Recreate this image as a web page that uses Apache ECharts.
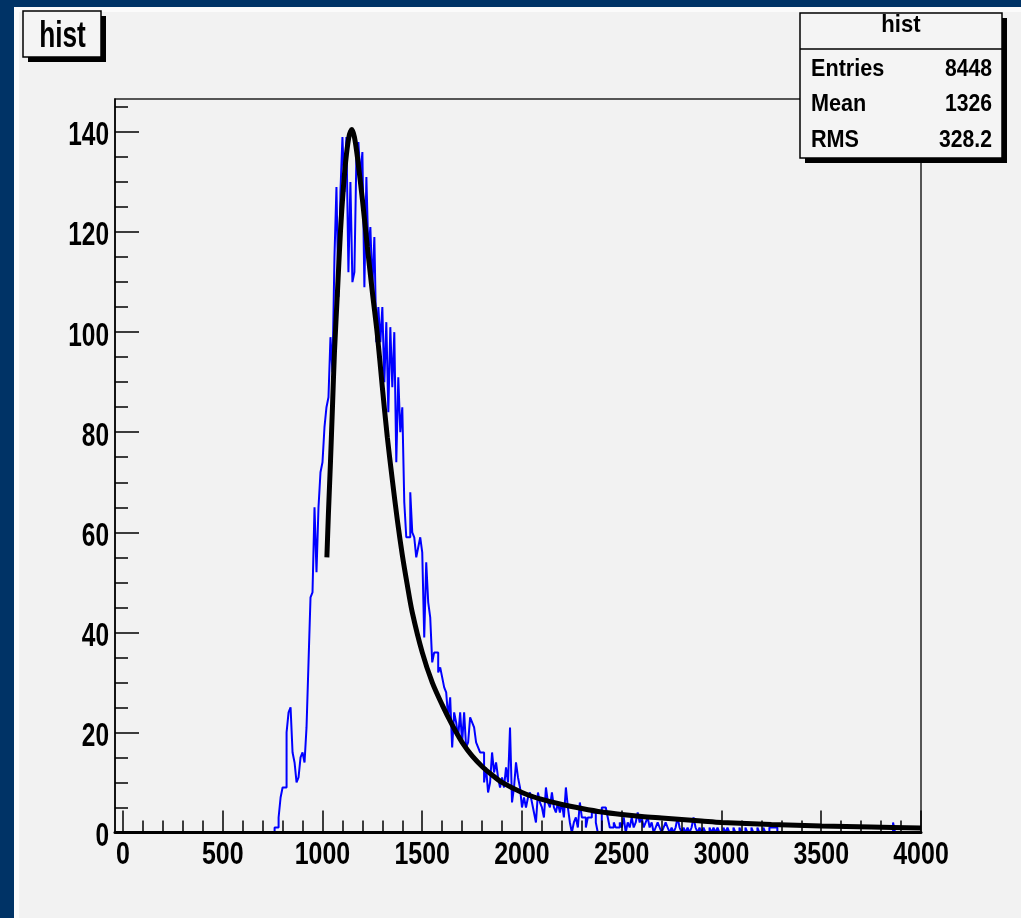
<!DOCTYPE html>
<html>
<head>
<meta charset="utf-8">
<script src="https://cdn.jsdelivr.net/npm/echarts@6/dist/echarts.min.js"></script>
<style>
html,body{margin:0;padding:0;background:#003366;}
#c{width:1021px;height:918px;}
</style>
</head>
<body>
<div id="c"></div>
<script>
// ---------- data ----------
const histTitle = 'hist';
const axisMin = -40;
const axisMax = 4000;
const histLow = 700;      // lower edge of first listed bin
const binWidth = 10;
// bin contents, 10 bins per row: 700-790, 800-890, ...
const counts = [
  0,0,0,0,0,0,1,1,3,7,
  9,9,20,24,25,16,14,10,11,15,
  16,14,21,34,47,48,65,52,65,72,
  74,81,85,87,99,92,115,129,107,128,
  139,128,139,112,130,110,112,135,138,131,
  136,109,131,116,121,109,119,98,105,98,
  105,90,102,84,101,89,100,74,91,80,
  85,66,59,59,68,60,59,55,57,59,
  56,39,54,46,43,34,36,36,32,33,
  31,29,28,23,27,17,24,22,19,24,
  18,24,17,18,23,22,21,18,17,16,
  16,10,13,8,10,16,12,14,11,9,
  11,9,13,10,21,6,9,14,11,9,
  5,7,5,7,8,6,4,2,8,6,
  5,3,9,6,5,8,5,4,6,4,
  6,3,9,5,2,0,2,3,1,6,
  3,3,1,3,3,4,4,2,0,0,
  5,5,5,3,1,1,2,1,1,2,
  1,3,0,2,1,3,1,2,4,2,
  3,1,2,3,1,2,0,1,2,1,
  0,1,2,1,0,1,0,1,3,1,
  0,1,0,1,0,1,3,1,0,1,
  0,1,0,0,1,0,1,0,1,0,
  0,1,0,1,0,0,1,0,0,1,
  0,0,1,0,0,1,0,0,1,0,
  0,1,0,0,1,1,1,1,0,0,
  0,0,0,0,0,0,0,0,0,0,
  0,0,0,0,0,0,0,0,0,0,
  0,0,0,0,0,0,0,0,0,0,
  0,0,0,0,0,0,0,0,0,0,
  0,0,0,0,0,0,0,0,0,0,
  0,0,0,0,0,0,2,0,0,0,
  0,0,0,0,0,0,0,0,0,0
];
// fitted curve
const fitX = [1022,1030,1040,1050,1060,1075,1090,1105,1120,1135,1147,1160,1175,1200,1225,1250,1275,1300,1325,1350,1375,1400,1425,1450,1500,1550,1600,1650,1700,1750,1800,1850,1900,2000,2100,2200,2300,2400,2500,2600,2700,2800,2900,3000,3250,3500,3750,4000];
const fitY = [55,64,74,85,96,108,120,129,135.5,139.5,140.5,139,135,126.5,117,108,99.5,89,79,70.5,62.5,55.5,49.5,44,36,30,25.5,21.5,18,15.3,13.2,11.5,10,8,6.6,5.6,4.8,4.1,3.6,3.2,2.9,2.6,2.3,2.0,1.6,1.3,1.1,0.9];
// axis ticks and labels
const xMajorTicks = [0,500,1000,1500,2000,2500,3000,3500,4000];
const xTickLabels = ['0','500','1000','1500','2000','2500','3000','3500','4000'];
const xMinorTicks = [100,200,300,400,600,700,800,900,1100,1200,1300,1400,1600,1700,1800,1900,2100,2200,2300,2400,2600,2700,2800,2900,3100,3200,3300,3400,3600,3700,3800,3900];
const yMax = 146.6;
const yMajorTicks = [0,20,40,60,80,100,120,140];
const yTickLabels = ['0','20','40','60','80','100','120','140'];
const yMinorTicks = [5,10,15,25,30,35,45,50,55,65,70,75,85,90,95,105,110,115,125,130,135,145];
// statistics box
const statsLabels = ['Entries','Mean','RMS'];
const statsValues = ['8448','1326','328.2'];

// ---------- chart ----------
const FONT = "'Liberation Sans','Arial',Helvetica,sans-serif";

const histData = [[axisMin, 0]]
  .concat(counts.map((c, i) => [histLow + i * binWidth, c]))
  .concat([[axisMax, counts[counts.length - 1]]]);
const fitData = fitX.map((x, i) => [x, fitY[i]]);

const chart = echarts.init(document.getElementById('c'), null, {renderer: 'canvas'});

chart.setOption({
  animation: false,
  backgroundColor: '#003366',
  grid: {
    left: 115, top: 99, right: 100, bottom: 85.5,
    show: true, backgroundColor: 'transparent', borderColor: '#222', borderWidth: 1.5
  },
  xAxis: [
    {
      type: 'value', min: axisMin, max: axisMax, position: 'bottom', offset: 0, z: 3,
      axisLine: {show: true, onZero: false, lineStyle: {color: '#000', width: 3}},
      axisTick: {show: true, inside: true, length: 22, customValues: xMajorTicks, lineStyle: {color: '#000', width: 1.5}},
      axisLabel: {show: false},
      splitLine: {show: false}
    },
    {
      type: 'value', min: axisMin, max: axisMax, position: 'bottom', offset: 0, z: 3,
      axisLine: {show: false, onZero: false},
      axisTick: {show: true, inside: true, length: 12, customValues: xMinorTicks, lineStyle: {color: '#000', width: 1.5}},
      axisLabel: {show: false},
      splitLine: {show: false}
    }
  ],
  yAxis: [
    {
      type: 'value', min: 0, max: yMax, position: 'left', offset: 0, z: 3,
      axisLine: {show: true, onZero: false, lineStyle: {color: '#000', width: 1.5}},
      axisTick: {show: true, inside: true, length: 24, customValues: yMajorTicks, lineStyle: {color: '#000', width: 1.5}},
      axisLabel: {show: false},
      splitLine: {show: false}
    },
    {
      type: 'value', min: 0, max: yMax, position: 'left', offset: 0, z: 3,
      axisLine: {show: false, onZero: false},
      axisTick: {show: true, inside: true, length: 13, customValues: yMinorTicks, lineStyle: {color: '#000', width: 1.5}},
      axisLabel: {show: false},
      splitLine: {show: false}
    }
  ],
  series: [
    {
      type: 'line', name: 'hist', xAxisIndex: 0, yAxisIndex: 0,
      step: 'end', showSymbol: false, symbol: 'none', clip: true,
      lineStyle: {color: '#0000ff', width: 2},
      data: histData, z: 2
    },
    {
      type: 'line', name: 'fit', xAxisIndex: 0, yAxisIndex: 0,
      smooth: 0.3, showSymbol: false, symbol: 'none', clip: true,
      lineStyle: {color: '#000', width: 5},
      data: fitData, z: 2
    }
  ]
});

// condensed bold text helper (ROOT-style narrow Helvetica)
function txt(str, x, y, size, sx, align, z) {
  return {
    type: 'text', x: x, y: y, scaleX: sx, scaleY: 1, z: z || 102,
    style: {text: str, x: 0, y: 0, align: align, verticalAlign: 'middle',
            fontFamily: FONT, fontWeight: 'bold', fontSize: size, fill: '#000'}
  };
}

const g = [
  {type: 'rect', z: -100, shape: {x: 14, y: 7, width: 1007, height: 911}, style: {fill: '#f2f2f2'}},
  {type: 'rect', z: -99, shape: {x: 14, y: 7, width: 1007, height: 5}, style: {fill: '#fbfbfb'}},
  {type: 'rect', z: -99, shape: {x: 14, y: 7, width: 5, height: 911}, style: {fill: '#fbfbfb'}},
  // title box
  {type: 'rect', z: 100, shape: {x: 28, y: 16, width: 78, height: 46}, style: {fill: '#000'}},
  {type: 'rect', z: 101, shape: {x: 23, y: 11, width: 78, height: 46}, style: {fill: '#f4f4f4', stroke: '#000', lineWidth: 1.5}},
  txt(histTitle, 62.5, 37, 37, 0.71, 'center'),
  // stats box
  {type: 'rect', z: 100, shape: {x: 805, y: 18, width: 202, height: 145}, style: {fill: '#000'}},
  {type: 'rect', z: 101, shape: {x: 800, y: 13, width: 202, height: 145}, style: {fill: '#f4f4f4', stroke: '#000', lineWidth: 1.5}},
  {type: 'line', z: 102, shape: {x1: 800, y1: 49, x2: 1002, y2: 49}, style: {stroke: '#000', lineWidth: 1.5}},
  txt(histTitle, 901, 25, 24, 0.92, 'center')
];
const rowY = [70, 105, 140.5];
statsLabels.forEach((lab, i) => {
  g.push(txt(lab, 811, rowY[i], 23, 0.94, 'left'));
  g.push(txt(statsValues[i], 992, rowY[i], 23, 0.92, 'right'));
});
// axis tick labels placed through the axis scales
xMajorTicks.forEach((v, i) => {
  const px = chart.convertToPixel({xAxisIndex: 0}, v);
  g.push(txt(xTickLabels[i], px, 855, 32, 0.78, 'center', 10));
});
yMajorTicks.forEach((v, i) => {
  const py = chart.convertToPixel({yAxisIndex: 0}, v);
  g.push(txt(yTickLabels[i], 109, py + 4, 34, 0.72, 'right', 10));
});
chart.setOption({graphic: g});
</script>
</body>
</html>
